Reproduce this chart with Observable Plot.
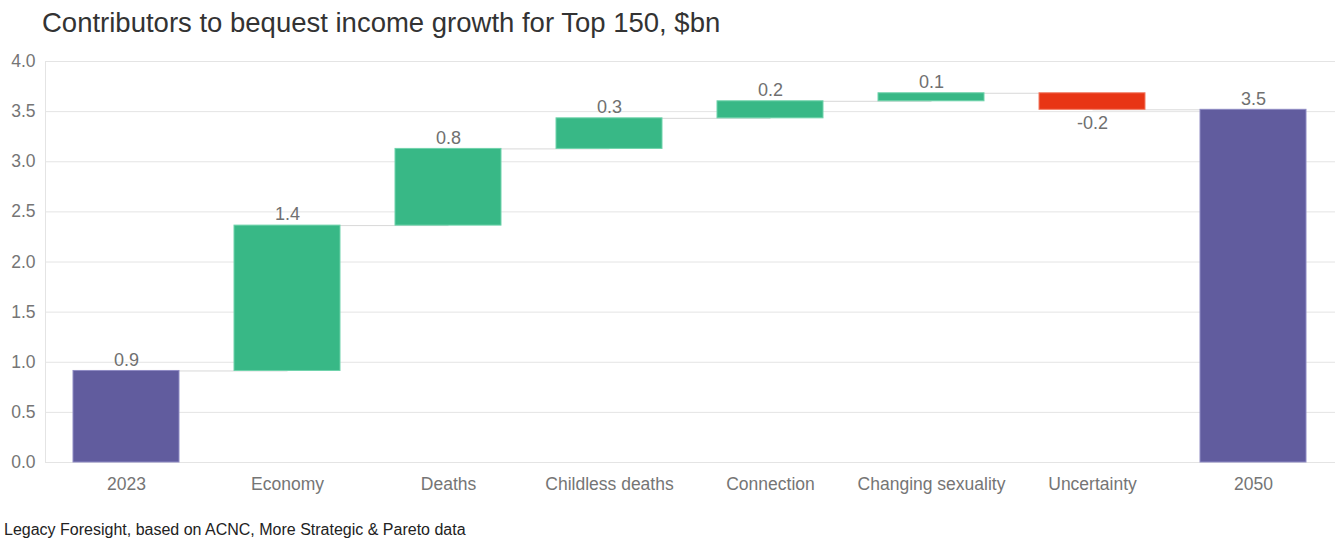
<!DOCTYPE html>
<html><head><meta charset="utf-8">
<script src="https://cdn.jsdelivr.net/npm/d3@7"></script>
<script src="https://cdn.jsdelivr.net/npm/@observablehq/plot@0.6"></script>
<style>
body{margin:0;background:#fff;font-family:"Liberation Sans",Arial,sans-serif;}
#title{height:44px;line-height:46px;padding-left:42px;font-size:27.5px;color:#333;}
#caption{height:32px;line-height:32px;padding-left:4px;font-size:16px;color:#222;}
</style></head>
<body>
<div id="title">Contributors to bequest income growth for Top 150, $bn</div>
<div id="chart"></div>
<div id="caption">Legacy Foresight, based on ACNC, More Strategic &amp; Pareto data</div>
<script>
const categories = ["2023","Economy","Deaths","Childless deaths","Connection","Changing sexuality","Uncertainty","2050"];
const values = [0.913, 1.45, 0.765, 0.305, 0.17, 0.08, -0.165, 3.518];
const kinds = ["total","up","up","up","up","up","down","total"];
const labels = ["0.9","1.4","0.8","0.3","0.2","0.1","-0.2","3.5"];
const yTicks = [0,0.5,1,1.5,2,2.5,3,3.5,4];

const colors = {total:"#615c9e", up:"#38b886", down:"#e83515"};
const strokes = {total:"#8f8bc4", up:"#6fd3ab", down:"#f27a62"};

let run = 0;
const rows = categories.map((c,i)=>{
  let y1, y2;
  if (kinds[i]==="total"){ y1 = 0; y2 = values[i]; run = values[i]; }
  else { y1 = run; y2 = run + values[i]; run = y2; }
  return {cat:c, y1, y2, kind:kinds[i], label:labels[i], end:run};
});
const links = rows.slice(0,-1).map((r,i)=>({a:r.cat, b:rows[i+1].cat, y:r.end}));

const chart = Plot.plot({
  width:1336, height:470,
  marginTop:17, marginBottom:52, marginLeft:45, marginRight:1,
  style:{fontFamily:'"Liberation Sans",Arial,sans-serif', fontSize:"17.5px", color:"#757575"},
  x:{domain:categories, paddingInner:0.34, paddingOuter:0.17, align:0.5, label:null, tickSize:0, tickPadding:15},
  y:{domain:[0,4], ticks:yTicks, tickFormat:d=>d.toFixed(1), label:null, tickSize:0, tickPadding:10},
  marks:[
    Plot.gridY(yTicks,{stroke:"#e4e4e4", strokeOpacity:1}),
    Plot.frame({anchor:"left", stroke:"#e4e4e4"}),
    Plot.link(links,{x1:"a", x2:"b", y1:"y", y2:"y", stroke:"#d8d8d8", strokeWidth:1}),
    Plot.barY(rows,{x:"cat", y1:"y1", y2:"y2", fill:d=>colors[d.kind], stroke:d=>strokes[d.kind], strokeWidth:1}),
    Plot.text(rows.filter(d=>d.kind!=="down"),{x:"cat", y:"y2", text:"label", dy:-11, fill:"#707070", fontSize:18}),
    Plot.text(rows.filter(d=>d.kind==="down"),{x:"cat", y:"y2", text:"label", dy:13, fill:"#707070", fontSize:18})
  ]
});
document.getElementById("chart").appendChild(chart);
</script>
</body></html>
